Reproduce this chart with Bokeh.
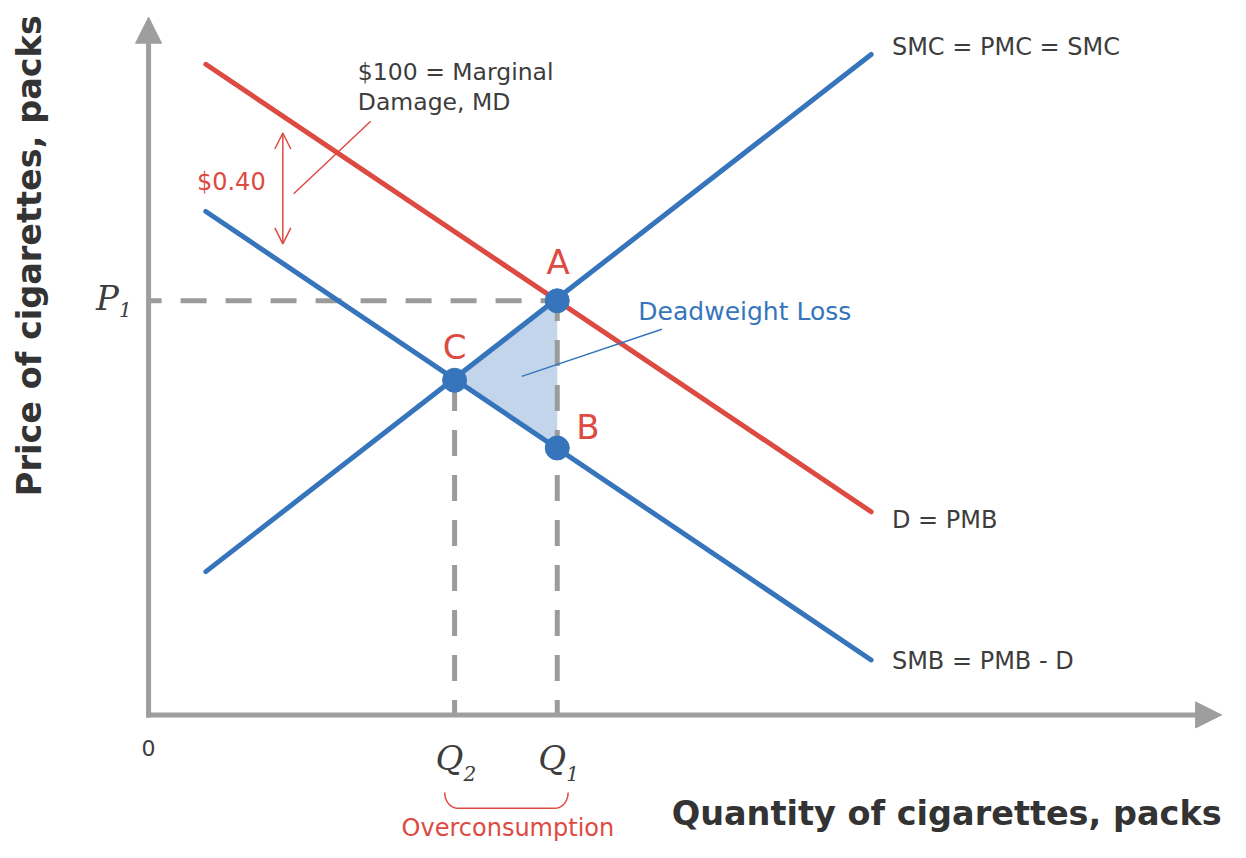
import numpy as np
from bokeh.plotting import figure
from bokeh.models import Range1d, Arrow, NormalHead, OpenHead
from bokeh.core.properties import value
from bokeh.embed import file_html
from bokeh.resources import INLINE

# ---------------- data (quantity / price units of the diagram) ----------------
q_ends = [58, 732]              # quantity where each curve starts / ends
d_pmb = [663, 207]              # D = PMB (red)
smb = [513, 56]                 # SMB = PMB - D (blue, lower demand)
smc = [146, 673]                # SMC = PMC (blue, supply)
q1, q2 = 414, 310               # Q1, Q2
p1 = 422                        # P1
pt_names = ["A", "B", "C"]
pt_q = [414, 414, 310]
pt_p = [422, 272, 341]
pt_lab_q = [415, 445, 310]
pt_lab_p = [462, 293, 375]
dwl_q = [310, 414, 414]         # deadweight-loss triangle C, A, B
dwl_p = [341, 422, 272]
md_q = 136                      # $0.40 marginal damage arrow
md_low, md_high = 480, 593
curve_labels = ["SMC = PMC = SMC", "D = PMB", "SMB = PMB - D"]
curve_label_q = [753, 753, 753]
curve_label_p = [681, 199, 55]
x_max, y_max = 1087, 711

RED = "#dd4a42"
BLUE = "#3675bc"
FILL = "#c2d5ea"
AXIS = "#9e9e9e"
DASH = "#9b9b9b"
TXT = "#3d3d3d"
TITLE = "#333333"
SANS = value("DejaVu Sans")
SERIF = value("DejaVu Serif")

p = figure(width=1230, height=842, x_range=Range1d(-150, 1096), y_range=Range1d(-130, 728),
           output_backend="svg", toolbar_location=None, min_border=0,
           x_axis_location=None, y_axis_location=None)
p.outline_line_color = None
p.grid.visible = False
p.background_fill_color = "white"
p.border_fill_color = "white"

# deadweight loss
p.patch(dwl_q, dwl_p, fill_color=FILL, line_color=None)

# dashed guides
p.line([0, q1], [p1, p1], line_color=DASH, line_width=5, line_dash="26 19", line_dash_offset=13)
p.line([q1, q1], [0, p1], line_color=DASH, line_width=5, line_dash="26 19", line_dash_offset=11)
p.line([q2, q2], [0, pt_p[2]], line_color=DASH, line_width=5, line_dash="26 19", line_dash_offset=11)

# curves
p.line(q_ends, d_pmb, line_color=RED, line_width=5, line_cap="round")
p.line(q_ends, smb, line_color=BLUE, line_width=5, line_cap="round")
p.line(q_ends, smc, line_color=BLUE, line_width=5, line_cap="round")

# points
p.scatter(pt_q, pt_p, size=24, fill_color=BLUE, line_color=BLUE)

# axes with arrow heads
p.add_layout(Arrow(end=NormalHead(size=26, fill_color=AXIS, line_color=AXIS, line_width=1),
                   x_start=-2.5, y_start=0, x_end=x_max, y_end=0, line_color=AXIS, line_width=5))
p.add_layout(Arrow(end=NormalHead(size=26, fill_color=AXIS, line_color=AXIS, line_width=1),
                   x_start=0, y_start=-2.5, x_end=0, y_end=y_max, line_color=AXIS, line_width=5))

# marginal damage double arrow and leader
p.add_layout(Arrow(start=OpenHead(size=16, line_color=RED, line_width=1.5),
                   end=OpenHead(size=16, line_color=RED, line_width=1.5),
                   x_start=md_q, y_start=md_low, x_end=md_q, y_end=md_high,
                   line_color=RED, line_width=1.5))
p.line([md_q + 11, md_q + 89], [md_low + 51, md_low + 125], line_color=RED, line_width=1.5)

# deadweight loss leader
p.line([q2 + 68, q2 + 210], [345, 393], line_color=BLUE, line_width=1.5)

# overconsumption brace
rx, ry = 13, 16
top = -79
L, R = q2 - 10, q1 + 11
t1 = np.linspace(np.pi, 1.5 * np.pi, 14)
t2 = np.linspace(1.5 * np.pi, 2 * np.pi, 14)
bx = np.concatenate([L + rx + rx * np.cos(t1), R - rx + rx * np.cos(t2)])
by = np.concatenate([top + ry * np.sin(t1), top + ry * np.sin(t2)])
p.line(bx, by, line_color=RED, line_width=1.5)

# texts
p.text(curve_label_q, curve_label_p, text=curve_labels, text_font=SANS, text_font_size="24px",
       text_color=TXT, text_align="left", text_baseline="middle")
p.text([212, 212], [655, 625], text=["$100 = Marginal", "Damage, MD"], text_font=SANS,
       text_font_size="23.5px", text_color=TXT, text_align="left", text_baseline="middle")
p.text([49], [543], text=["$0.40"], text_font=SANS, text_font_size="24px", text_color=RED,
       text_align="left", text_baseline="middle")
p.text([604], [411], text=["Deadweight Loss"], text_font=SANS, text_font_size="25px",
       text_color=BLUE, text_align="center", text_baseline="middle")
p.text(pt_lab_q, pt_lab_p, text=pt_names, text_font=SANS, text_font_size="34px", text_color=RED,
       text_align="center", text_baseline="middle")
p.text([0], [-34], text=["0"], text_font=SANS, text_font_size="22px", text_color=TXT,
       text_align="center", text_baseline="middle")
p.text([(q1 + q2) / 2 + 2], [-115], text=["Overconsumption"], text_font=SANS, text_font_size="24px",
       text_color=RED, text_align="center", text_baseline="middle")

# P1, Q1, Q2 labels (italic serif with subscripts)
p.text([-30], [p1 + 3], text=["P"], text_font=SERIF, text_font_style="italic", text_font_size="34px",
       text_color=TXT, text_align="right", text_baseline="middle")
p.text([-30], [p1 - 9], text=["1"], text_font=SERIF, text_font_style="italic", text_font_size="20px",
       text_color=TXT, text_align="left", text_baseline="middle")
p.text([q2 + 9, q1 + 9], [-44, -44], text=["Q", "Q"], text_font=SERIF, text_font_style="italic",
       text_font_size="34px", text_color=TXT, text_align="right", text_baseline="middle")
p.text([q2 + 9, q1 + 9], [-60, -60], text=["2", "1"], text_font=SERIF, text_font_style="italic",
       text_font_size="20px", text_color=TXT, text_align="left", text_baseline="middle")

# axis titles
p.text([-121], [468], text=["Price of cigarettes, packs"], angle=np.pi / 2, text_font=SANS,
       text_font_style="bold", text_font_size="33.5px", text_color=TITLE, text_align="center",
       text_baseline="middle")
p.text([x_max], [-100], text=["Quantity of cigarettes, packs"], text_font=SANS,
       text_font_style="bold", text_font_size="33.5px", text_color=TITLE, text_align="right",
       text_baseline="middle")

open("out.html", "w").write(file_html(p, INLINE))
